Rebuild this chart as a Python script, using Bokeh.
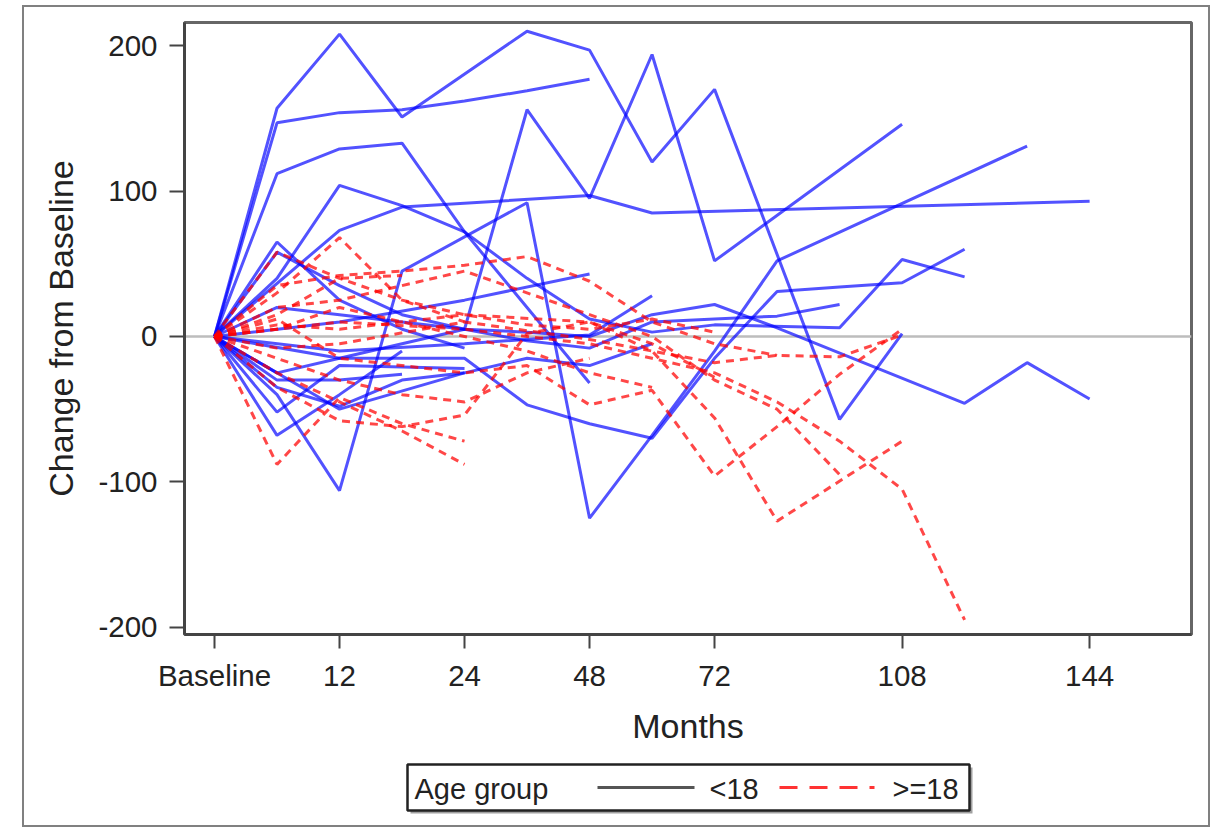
from bokeh.plotting import figure
from bokeh.models import ColumnDataSource, FixedTicker, Range1d, Span
from bokeh.layouts import column
from bokeh.embed import file_html
from bokeh.resources import INLINE
from bokeh.core.properties import value

# ---------------- data ----------------
visit_months = [0, 6, 12, 18, 24, 36, 48, 60, 72, 84, 96, 108, 120, 132, 144]
tick_months = [0, 12, 24, 48, 72, 108, 144]
tick_labels = ["Baseline", "12", "24", "48", "72", "108", "144"]
y_ticks = [-200, -100, 0, 100, 200]
y_tick_labels = ["-200", "-100", "0", "100", "200"]

under18_months = [
    [0, 6, 12, 18, 36, 48, 60, 72, 96, 108],
    [0, 6, 12, 18, 24, 36, 48],
    [0, 6, 12, 18, 24, 36, 48],
    [0, 12, 18, 48, 60, 144],
    [0, 12, 24, 36, 48, 60, 72, 108],
    [0, 6, 12, 18, 36, 48, 60, 72, 84, 132],
    [0, 6, 12, 18, 24, 36, 48, 60, 72, 84, 120, 132, 144],
    [0, 6, 12, 18, 24],
    [0, 6, 12, 18, 24, 36, 48, 60, 72, 96, 108, 120],
    [0, 12, 24, 48],
    [0, 12, 24, 48, 60],
    [0, 6, 12, 18],
    [0, 6, 12, 24],
    [0, 6, 12, 18],
    [0, 12, 24],
    [0, 6, 12, 18, 24, 36, 48, 60, 72, 84, 96],
    [0, 6, 12, 24, 36, 48, 60, 72, 84, 96, 108, 120],
    [0, 6, 12, 18, 24, 36, 48, 60],
]
under18_change = [
    [0, 157, 208, 151, 210, 197, 120, 170, -57, 2],
    [0, 147, 154, 156, 162, 169, 177],
    [0, 112, 129, 133, 72, 20, -32],
    [0, 73, 89, 97, 85, 93],
    [0, -15, 5, 156, 95, 194, 52, 146],
    [0, -40, -106, 45, 92, -125, -68, -10, 52, 131],
    [0, 20, 15, 10, 5, 3, 0, 15, 22, 6, -46, -18, -43],
    [0, 65, 25, 5, -8],
    [0, 40, 104, 90, 72, 40, 12, 3, 8, 6, 53, 41],
    [0, 10, 25, 43],
    [0, -10, -5, 1, 28],
    [0, -68, -40, -10],
    [0, -52, -20, -22],
    [0, -30, -30, -26],
    [0, -50, -25],
    [0, 58, 35, 15, 5, -3, -8, 10, 12, 14, 22],
    [0, -25, -15, -15, -47, -60, -70, -15, 31, 34, 37, 60],
    [0, -35, -48, -30, -25, -15, -20, -5],
]

adult_months = [
    [0, 6, 12, 18, 24, 36, 48, 60, 72],
    [0, 6, 12, 18, 24],
    [0, 6, 12, 18, 24, 36, 48, 60, 72, 84],
    [0, 6, 12, 18, 24],
    [0, 6, 12, 18, 24],
    [0, 6, 12, 18, 24, 36, 48, 60, 72],
    [0, 12, 24, 48, 60, 72, 84, 96, 108, 120],
    [0, 6, 12, 24, 36, 48, 60, 72, 84, 96, 108],
    [0, 6, 12, 24, 48, 60, 72, 84, 108],
    [0, 6, 12, 24, 48, 72, 84, 96, 108],
    [0, 6, 12, 24, 48, 60, 72, 84, 96],
    [0, 6, 12, 18, 24, 36, 48],
    [0, 6, 12, 18],
    [0, 6, 12, 18, 24, 36, 48, 60],
]
adult_change = [
    [0, 58, 40, 25, 15, 8, 5, 12, 3],
    [0, 30, 68, 25, 10],
    [0, 35, 42, 45, 49, 55, 38, 10, -5, -13],
    [0, -88, -42, -60, -72],
    [0, -25, -45, -65, -88],
    [0, -35, -58, -62, -54, 2, 10, -5, -28],
    [0, 10, 5, -5, -15, -25, -45, -72, -105, -195],
    [0, 12, -15, -25, -20, -47, -37, -96, -62, -26, 5],
    [0, 8, 5, 15, 10, -10, -56, -127, -72],
    [0, -8, -5, 10, -2, -18, -13, -14, 1],
    [0, 20, 25, 45, 15, 0, -30, -50, -95],
    [0, -15, -30, -40, -45, -25, -15],
    [0, 15, 40, 42],
    [0, 5, 20, 10, 0, -10, -25, -35],
]

legend_title = "Age group"
legend_labels = ["<18", ">=18"]
x_label = "Months"
y_label = "Change from Baseline"

FONT = "Liberation Sans"
W = 1184
MB_LEFT, MB_RIGHT = 160, 17


def to_pos(months_list):
    return [[visit_months.index(m) for m in ms] for ms in months_list]


# ---------------- main plot ----------------
p = figure(width=W, height=748, x_range=Range1d(-0.48, 15.63), y_range=Range1d(-205, 216),
           output_backend="svg", toolbar_location=None,
           min_border_left=MB_LEFT, min_border_right=MB_RIGHT, min_border_top=15,
           min_border_bottom=121)
p.grid.visible = False
p.outline_line_color = "#666666"
p.outline_line_width = 3
p.background_fill_color = "white"
p.border_fill_color = "white"

zero = Span(location=0, dimension="width", line_color="#bdbdbd", line_width=2.5, level="underlay")
p.add_layout(zero)

blue_src = ColumnDataSource(dict(xs=to_pos(under18_months), ys=under18_change))
red_src = ColumnDataSource(dict(xs=to_pos(adult_months), ys=adult_change))
p.multi_line("xs", "ys", source=blue_src, line_color="#0000ff", line_alpha=0.68, line_width=3)
p.multi_line("xs", "ys", source=red_src, line_color="#ff0000", line_alpha=0.72, line_width=3,
             line_dash="8 6")

for ax in (p.xaxis[0], p.yaxis[0]):
    ax.axis_line_color = "#444444"
    ax.axis_line_width = 3
    ax.major_tick_line_color = "#444444"
    ax.major_tick_line_width = 2
    ax.major_tick_in = 0
    ax.minor_tick_line_color = None
    ax.major_label_text_font = FONT
    ax.major_label_text_font_size = "29.5px"
    ax.major_label_text_color = "#222222"
    ax.axis_label_text_font = FONT
    ax.axis_label_text_font_size = "34px"
    ax.axis_label_text_font_style = "normal"
    ax.axis_label_text_color = "#222222"

p.xaxis.ticker = FixedTicker(ticks=[visit_months.index(m) for m in tick_months])
p.xaxis.major_label_overrides = {visit_months.index(m): lab for m, lab in zip(tick_months, tick_labels)}
p.xaxis.major_tick_out = 14
p.xaxis.major_label_standoff = 10
p.xaxis.axis_label = x_label
p.xaxis.axis_label_standoff = 12

p.yaxis.ticker = FixedTicker(ticks=y_ticks)
p.yaxis.major_label_overrides = dict(zip(y_ticks, y_tick_labels))
p.yaxis.major_tick_out = 15
p.yaxis.major_label_standoff = 12
p.yaxis.axis_label = y_label
p.yaxis.axis_label_standoff = 15

# ---------------- legend strip (coordinates in page pixels) ----------------
lg = figure(width=W, height=70, x_range=Range1d(185, 1192), y_range=Range1d(70, 0),
            output_backend="svg", toolbar_location=None,
            min_border_left=MB_LEFT, min_border_right=MB_RIGHT, min_border_top=0, min_border_bottom=0)
lg.axis.visible = False
lg.grid.visible = False
lg.outline_line_color = None
lg.background_fill_color = "white"
lg.border_fill_color = "white"

lg.quad(left=[411], right=[973], top=[12], bottom=[58], fill_color="#a0a0a0", line_color=None)
lg.quad(left=[408], right=[970], top=[9], bottom=[55], fill_color="white", line_color="#222222",
        line_width=2.5)
lg.line(x=[598, 695], y=[32, 32], line_color="#555555", line_width=3)
lg.line(x=[780, 875], y=[32, 32], line_color="#ff3333", line_width=3, line_dash="18 12")
lg.text(x=[415, 710, 893], y=[33, 33, 33], text=[legend_title] + legend_labels,
        text_font=value(FONT), text_font_size=value("29px"), text_color="#222222",
        text_baseline="middle", text_align="left")

layout = column(p, lg, spacing=0)
layout.styles = {"border": "2px solid #808080", "background-color": "white"}
layout.margin = (5, 0, 0, 22)

open("out.html", "w").write(file_html(layout, INLINE))
